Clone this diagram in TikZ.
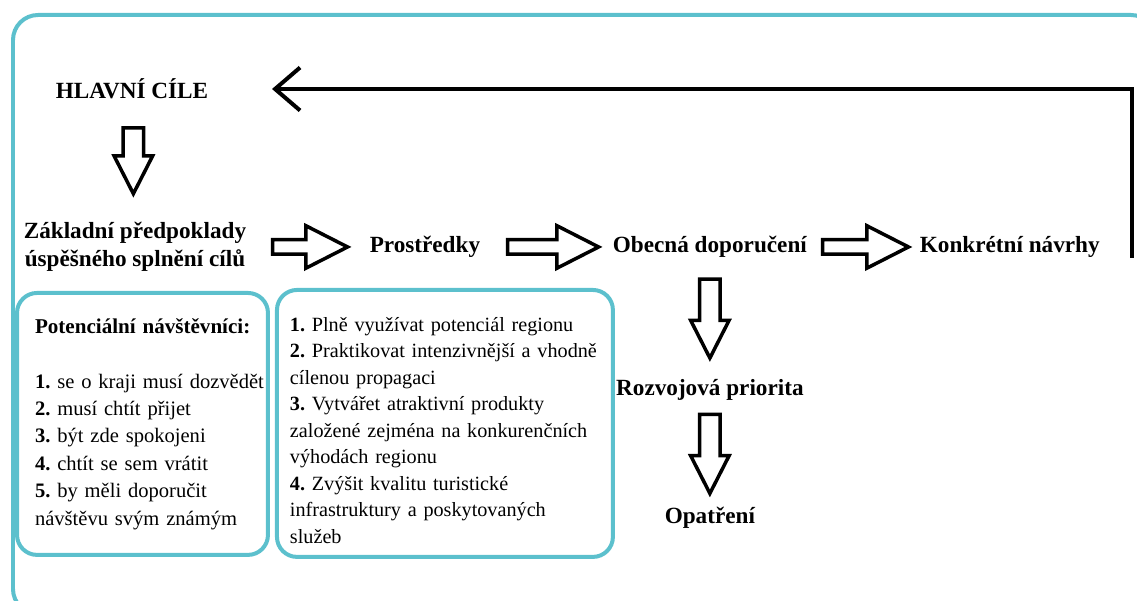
\documentclass[tikz,border=0pt]{standalone}
\usepackage{fontspec}
\setmainfont{Liberation Serif}
\usetikzlibrary{positioning, shapes.arrows, arrows.meta}
\definecolor{tyrkys}{RGB}{92,192,205}
\frenchspacing

\begin{document}
\begin{tikzpicture}[x=0.02cm, y=-0.02cm, on grid,
	nadpis/.style={font=\fontsize{13.2}{16}\selectfont\bfseries, align=center, inner sep=2pt},
	ramec/.style={draw=tyrkys, line width=0.08cm, rounded corners=0.4cm, align=left},
	sipka/.style={single arrow, draw, line width=0.07cm, minimum width=0pt,
		single arrow tip angle=54, single arrow head indent=0pt},
	tlusta/.style={sipka, inner sep=0.11cm, single arrow head extend=0.28cm, xshift=-0.1cm},
	tlustadol/.style={sipka, rotate=-90, xshift=-0.2cm, inner sep=0.17cm, single arrow head extend=0.18cm},
	zpet/.style={line width=0.08cm, -{Straight Barb[length=0.5cm, width=0.86cm]}}]

	\clip (0,0) rectangle (1137,601);
	\draw[draw=tyrkys, line width=0.08cm, rounded corners=0.5cm] (13,15) rectangle (1156,614);

	\node[nadpis] (hc) at (132,89) {HLAVNÍ CÍLE};
	\node[nadpis, below right=3.16cm and 0.06cm of hc] (zp) {Základní předpoklady\\úspěšného splnění cílů};
	\node[nadpis, right=5.8cm of zp] (pr) {Prostředky};
	\node[nadpis, right=5.7cm of pr] (od) {Obecná doporučení};
	\node[nadpis, right=6cm of od] (kn) {Konkrétní návrhy};
	\node[nadpis, below=2.86cm of od] (rp) {Rozvojová priorita};
	\node[nadpis, below=2.56cm of rp] (op) {Opatření};
	\coordinate (ret) at (1132,258);

	\node[ramec, below right=3.54cm and 0.15cm of zp, minimum width=5.02cm, minimum height=5.24cm,
		text width=4.3cm, inner xsep=0.36cm, font=\fontsize{11.7}{15.6}\selectfont] (lv)
		{\mbox{\fontsize{12}{15.6}\selectfont\textbf{Potenciální návštěvníci:}}\\[15.6pt]
		\mbox{\textbf{1.} se o kraji musí dozvědět}\\
		\textbf{2.} musí chtít přijet\\
		\textbf{3.} být zde spokojeni\\
		\textbf{4.} chtít se sem vrátit\\
		\textbf{5.} by měli doporučit\\
		návštěvu svým známým};
	\node[ramec, below right=3.53cm and 0.4cm of pr, minimum width=6.72cm, minimum height=5.34cm,
		text width=6.2cm, inner xsep=0.26cm, font=\fontsize{11.5}{15.1}\selectfont] (pv)
		{\rule{0pt}{16pt}\textbf{1.} Plně využívat potenciál regionu\\
		\mbox{\textbf{2.} Praktikovat intenzivnější a vhodně}\\
		cílenou propagaci\\
		\textbf{3.} Vytvářet atraktivní produkty\\
		\mbox{založené zejména na konkurenčních}\\
		výhodách regionu\\
		\textbf{4.} Zvýšit kvalitu turistické\\
		infrastruktury a poskytovaných\\
		služeb};

	\path
		(hc) -- node[tlustadol, minimum height=1.32cm]{} (zp)
		(zp) -- node[tlusta, minimum height=1.5cm]{} (pr)
		(pr) -- node[tlusta, xshift=0.09cm, minimum height=1.82cm]{} (od)
		(od) -- node[tlusta, minimum height=1.72cm]{} (kn)
		(od) -- node[tlustadol, minimum height=1.58cm]{} (rp)
		(rp) -- node[tlustadol, minimum height=1.58cm]{} (op)
		;
	\draw[zpet, shorten >=1.2cm] (ret) |- (hc);
\end{tikzpicture}
\end{document}
